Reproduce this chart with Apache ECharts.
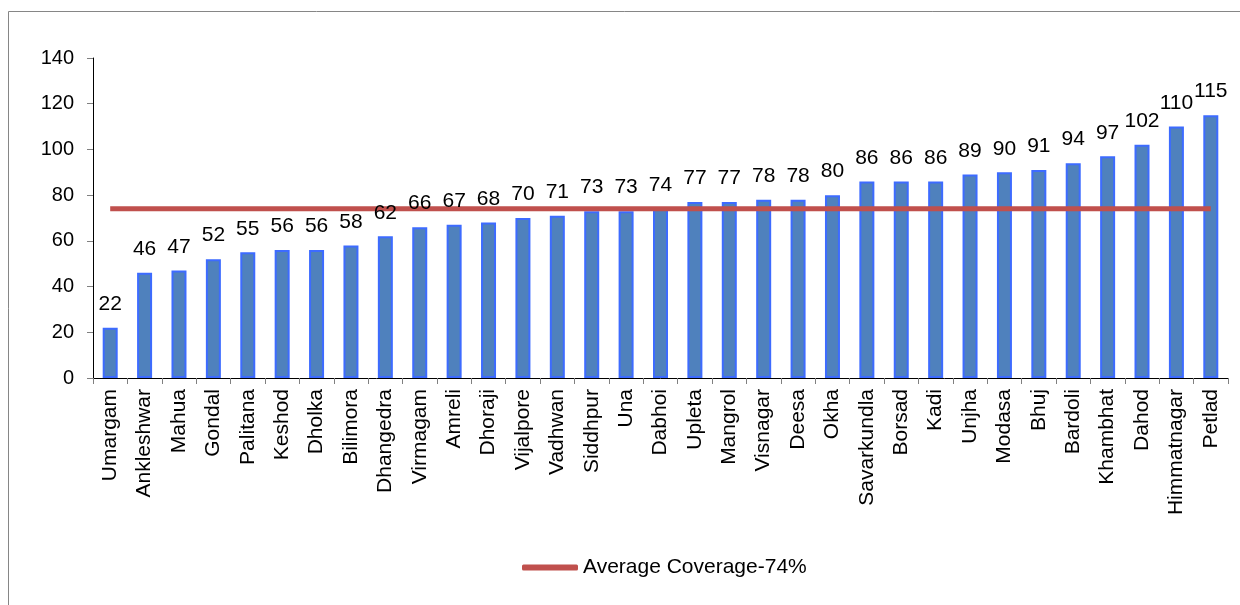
<!DOCTYPE html>
<html>
<head>
<meta charset="utf-8">
<script src="https://cdn.jsdelivr.net/npm/echarts@6/dist/echarts.min.js"></script>
<style>
  html, body { margin: 0; padding: 0; background: #fff; }
  #chart { width: 1240px; height: 605px; }
</style>
</head>
<body>
<div id="chart"></div>
<script>
// Towns, ordered by coverage
const towns = ['Umargam', 'Ankleshwar', 'Mahua', 'Gondal', 'Palitana', 'Keshod', 'Dholka', 'Bilimora',
  'Dhangedra', 'Virmagam', 'Amreli', 'Dhoraji', 'Vijalpore', 'Vadhwan', 'Siddhpur', 'Una', 'Dabhoi',
  'Upleta', 'Mangrol', 'Visnagar', 'Deesa', 'Okha', 'Savarkundla', 'Borsad', 'Kadi', 'Unjha', 'Modasa',
  'Bhuj', 'Bardoli', 'Khambhat', 'Dahod', 'Himmatnagar', 'Petlad'];

// Coverage per town
const coverage = [22, 46, 47, 52, 55, 56, 56, 58, 62, 66, 67, 68, 70, 71, 73, 73, 74,
  77, 77, 78, 78, 80, 86, 86, 86, 89, 90, 91, 94, 97, 102, 110, 115];

// Average coverage reference level
const averageCoverage = 74;
const averageName = 'Average Coverage-74%';

const chart = echarts.init(document.getElementById('chart'), null, { renderer: 'canvas' });
const font = 'Liberation Sans, Arial, sans-serif';

const valueLabel = { show: true, position: 'top', distance: 13, fontSize: 21, color: '#000', fontFamily: font };

chart.setOption({
  animation: false,
  textStyle: { fontFamily: font },
  graphic: [{
    type: 'rect',
    shape: { x: 8.5, y: 11.5, width: 1400, height: 800 },
    style: { fill: 'none', stroke: '#868686', lineWidth: 1 },
    silent: true,
    z: -10
  }],
  grid: { left: 93, right: 12, top: 58, bottom: 227, containLabel: false },
  legend: {
    left: 522,
    top: 557,
    padding: 0,
    itemGap: 5,
    icon: 'roundRect',
    itemWidth: 56,
    itemHeight: 6,
    textStyle: { fontSize: 21, color: '#000', fontFamily: font },
    data: [averageName]
  },
  xAxis: {
    type: 'category',
    data: towns,
    axisLine: { lineStyle: { color: '#000', width: 1 } },
    axisTick: { show: true, length: 6, lineStyle: { color: '#808080' } },
    axisLabel: { rotate: 90, margin: 11, fontSize: 21, color: '#000', fontFamily: font, interval: 0 }
  },
  yAxis: {
    type: 'value',
    min: 0,
    max: 140,
    interval: 20,
    splitLine: { show: false },
    axisLine: { show: true, lineStyle: { color: '#000', width: 1 } },
    axisTick: { show: true, length: 6, lineStyle: { color: '#808080' } },
    axisLabel: { margin: 19, fontSize: 20, color: '#000', fontFamily: font }
  },
  series: [
    {
      name: 'Coverage',
      type: 'bar',
      data: coverage,
      barWidth: 15,
      itemStyle: { color: '#4F81BD', borderColor: '#3D6BFF', borderWidth: 2 },
      label: { show: false },
      z: 2
    },
    {
      name: averageName,
      type: 'line',
      data: towns.map(() => averageCoverage),
      showSymbol: false,
      symbol: 'none',
      itemStyle: { color: '#C0504D' },
      lineStyle: { color: '#C0504D', width: 5 },
      z: 3
    },
    {
      // transparent twin of the bars, so value labels sit above the average line
      name: 'Coverage labels',
      type: 'bar',
      data: coverage,
      barWidth: 15,
      barGap: '-100%',
      itemStyle: { color: 'rgba(0,0,0,0)', borderWidth: 0 },
      label: valueLabel,
      silent: true,
      z: 4
    }
  ]
});
</script>
</body>
</html>
